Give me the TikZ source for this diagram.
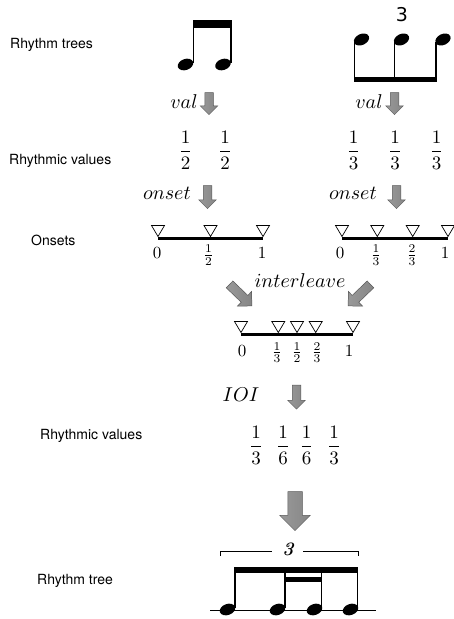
\documentclass[tikz,border=0pt]{standalone}
\usepackage{amsmath}
\usepackage{fontspec}
\newfontfamily\labelfont{TeX Gyre Heros}
\newfontfamily\tripletfont{DejaVu Sans}
\usetikzlibrary{shapes.arrows}
\tikzset{
  rowlabel/.style={font=\labelfont\fontsize{14}{16}\selectfont, anchor=west, inner sep=0pt},
  fn/.style={inner sep=0pt},
  val/.style={inner sep=0pt},
  small/.style={inner sep=0pt},
  blockarrow/.style={single arrow, draw=black!65, line width=0.5pt,
    left color=gray!80, middle color=gray!50, right color=gray!95,
    inner sep=4pt, single arrow head extend=4.5pt, minimum height=22pt},
  downarrow/.style={blockarrow, rotate=-90},
  timeline/.style={line width=3pt},
  tick/.style={draw, fill=white, line width=0.7pt},
  stem/.style={line width=1.4pt},
}
\newcommand{\nhead}[3][20]{\fill[rotate around={#1:(#2,#3)}] (#2,#3) ellipse (8 and 5.5);}
\newcommand{\fnname}[1]{\scalebox{2}{$#1$}}
\newcommand{\rval}[2]{\scalebox{1.9}{$\dfrac{#1}{#2}$}}
\newcommand{\onsetlab}[1]{\scalebox{1.7}{$#1$}}
\begin{document}
\begin{tikzpicture}[x=1pt,y=-1pt]
    \useasboundingbox (0,0) rectangle (454,619);
    % row labels
    \node[rowlabel] (trees) at (10,45) {Rhythm trees};
    \node[rowlabel] (values) at (9,161) {Rhythmic values};
    \node[rowlabel] (onsets) at (31,240) {Onsets};
    \node[rowlabel] (ioivalues) at (40,436) {Rhythmic values};
    \node[rowlabel] (tree) at (37,581) {Rhythm tree};
    % two beamed eighths
    \nhead{185.5}{64.5} \nhead{223}{64.5}
    \draw[stem] (193.3,63) -- (193.3,22);
    \draw[stem] (230.8,63) -- (230.8,22);
    \fill (192.6,20) rectangle (231.5,28);
    % triplet of eighths
    \nhead[25]{361.5}{39.5} \nhead[25]{401.5}{39.5} \nhead[25]{443}{39.5}
    \draw[stem] (354.3,42) -- (354.3,80);
    \draw[stem] (394.3,42) -- (394.3,80);
    \draw[stem] (435.8,42) -- (435.8,80);
    \fill (353.6,77) rectangle (436.5,82);
    \node[font=\tripletfont\fontsize{19}{22}\selectfont, inner sep=0pt] (three) at (402,15) {3};
    % val
    \node[fn] (val1) at (184,102) {\fnname{val}};
    \node[downarrow] (a1) at (209,101.5) {};
    \node[fn] (val2) at (369,102) {\fnname{val}};
    \node[downarrow] (a2) at (394.5,101.5) {};
    % rhythmic values
    \node[val] (h1) at (185.5,150.5) {\rval{1}{2}};
    \node[val] (h2) at (225,150.5) {\rval{1}{2}};
    \node[val] (t1) at (353.5,150.5) {\rval{1}{3}};
    \node[val] (t2) at (395,150.5) {\rval{1}{3}};
    \node[val] (t3) at (436.5,150.5) {\rval{1}{3}};
    % onset
    \node[fn] (onset1) at (167,193) {\fnname{onset}};
    \node[downarrow, minimum height=23pt] (a3) at (207.5,195) {};
    \node[fn] (onset2) at (353,193) {\fnname{onset}};
    \node[downarrow, minimum height=23pt] (a4) at (396.5,195) {};
    % onset lines
    \draw[timeline] (158,238) -- (263,238);
    \foreach \x in {158,210.5,263}
        \draw[tick] (\x,236.5) -- ++(-6.5,-11) -- ++(13,0) -- cycle;
    \node[small] (l0) at (157,253) {\onsetlab{0}};
    \node[small] (lh) at (208.5,255) {\onsetlab{\frac{1}{2}}};
    \node[small] (l1) at (262,253) {\onsetlab{1}};
    \draw[timeline] (342,238) -- (448,238);
    \foreach \x in {342,377.3,412.7,448}
        \draw[tick] (\x,236.5) -- ++(-6.5,-11) -- ++(13,0) -- cycle;
    \node[small] (r0) at (340,253) {\onsetlab{0}};
    \node[small] (r1) at (376,255) {\onsetlab{\frac{1}{3}}};
    \node[small] (r2) at (412,255) {\onsetlab{\frac{2}{3}}};
    \node[small] (r3) at (445,253) {\onsetlab{1}};
    % interleave
    \node[fn] (inter) at (300,281) {\fnname{interleave}};
    \node[blockarrow, rotate=-44, inner sep=4.5pt, single arrow head extend=5.5pt, minimum height=31pt] (a5) at (239,293.5) {};
    \node[blockarrow, rotate=-136, inner sep=4.5pt, single arrow head extend=5.5pt, minimum height=31pt] (a6) at (361,293.5) {};
    \draw[timeline] (241,334) -- (353,334);
    \foreach \x in {241,278.3,297,315.7,353}
        \draw[tick] (\x,332.5) -- ++(-6.5,-11) -- ++(13,0) -- cycle;
    \node[small] (m0) at (242,351) {\onsetlab{0}};
    \node[small] (m1) at (277,352.5) {\onsetlab{\frac{1}{3}}};
    \node[small] (m2) at (297,352.5) {\onsetlab{\frac{1}{2}}};
    \node[small] (m3) at (317,352.5) {\onsetlab{\frac{2}{3}}};
    \node[small] (m4) at (349,351) {\onsetlab{1}};
    % IOI
    \node[fn] (ioi) at (241,395) {\fnname{IOI}};
    \node[downarrow, minimum height=24pt] (a7) at (296.5,395) {};
    \node[val] (i1) at (256,445) {\rval{1}{3}};
    \node[val] (i2) at (283,445) {\rval{1}{6}};
    \node[val] (i3) at (306.5,445) {\rval{1}{6}};
    \node[val] (i4) at (334,445) {\rval{1}{3}};
    \node[downarrow, inner sep=7pt, single arrow head extend=8pt, minimum height=39pt] (a8) at (295,507.5) {};
    % resulting tree
    \draw[line width=0.7pt] (220,556) |- (272,551);
    \draw[line width=0.7pt] (303,551) -| (358,556);
    \node[font=\bfseries\itshape, inner sep=0pt] (bracket3) at (288,549) {\scalebox{1.9}{3}};
    \draw[line width=0.6pt] (210,610) -- (376,610);
    \nhead{227.5}{609.5} \nhead{277.5}{609.5} \nhead{314.5}{609.5} \nhead{350.5}{609.5}
    \draw[stem] (235,608) -- (235,569);
    \draw[stem] (285,608) -- (285,569);
    \draw[stem] (321.7,608) -- (321.7,569);
    \draw[stem] (357.6,608) -- (357.6,569);
    \fill (234.3,567) rectangle (358.3,573);
    \fill (284.3,577) rectangle (322.4,582);
\end{tikzpicture}
\end{document}
